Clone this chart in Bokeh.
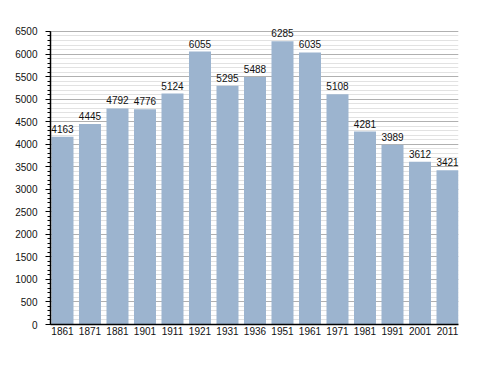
from bokeh.plotting import figure
from bokeh.models import ColumnDataSource, FixedTicker, Range1d, LabelSet
from bokeh.core.properties import value
from bokeh.embed import file_html
from bokeh.resources import INLINE

years = ["1861", "1871", "1881", "1901", "1911", "1921", "1931", "1936",
         "1951", "1961", "1971", "1981", "1991", "2001", "2011"]
population = [4163, 4445, 4792, 4776, 5124, 6055, 5295, 5488,
              6285, 6035, 5108, 4281, 3989, 3612, 3421]
y_ticks = list(range(0, 6501, 500))

idx = list(range(len(years)))
src = ColumnDataSource(dict(x=idx, y=population, lab=[str(v) for v in population]))

p = figure(width=480, height=365, output_backend="svg", toolbar_location=None,
           x_range=Range1d(-0.436, 14.4), y_range=Range1d(0, 6655),
           min_border_left=50, min_border_right=22, min_border_top=24, min_border_bottom=41)
p.outline_line_color = None
p.background_fill_color = "white"

p.vbar(x="x", top="y", width=0.8, bottom=0, source=src,
       fill_color="#9cb4cf", line_color=None)

labels = LabelSet(x="x", y="y", text="lab", source=src, text_align="center",
                  text_baseline="bottom", y_offset=4, text_font_size="10px",
                  text_font=value("Liberation Sans"), text_color="#111111")
p.add_layout(labels)

p.xaxis.ticker = FixedTicker(ticks=idx)
p.xaxis.major_label_overrides = {i: y for i, y in enumerate(years)}
p.xaxis.major_tick_line_color = None
p.xaxis.major_tick_in = 0
p.xaxis.major_tick_out = 0
p.xaxis.minor_tick_line_color = None
p.xaxis.minor_tick_in = 0
p.xaxis.minor_tick_out = 0
p.xaxis.major_label_standoff = 2
p.xaxis.axis_line_color = "black"
p.xaxis.axis_line_width = 1.5
p.xaxis.major_label_text_font = "Liberation Sans"
p.xaxis.major_label_text_font_size = "10px"
p.xaxis.major_label_text_color = "#111111"

p.yaxis.ticker = FixedTicker(ticks=y_ticks, minor_ticks=list(range(0, 6501, 100)))
p.yaxis.bounds = (0, 6500)
p.yaxis.major_tick_in = 0
p.yaxis.major_tick_out = 5
p.yaxis.minor_tick_in = 0
p.yaxis.minor_tick_out = 3
p.yaxis.axis_line_color = "black"
p.yaxis.axis_line_width = 1.5
p.yaxis.major_label_standoff = 8
p.yaxis.major_label_text_font = "Liberation Sans"
p.yaxis.major_label_text_font_size = "10px"
p.yaxis.major_label_text_color = "#111111"

p.xgrid.grid_line_color = None
p.ygrid.grid_line_color = "#b0b0b0"
p.ygrid.minor_grid_line_color = "#e2e2e2"
p.ygrid.level = "underlay"

open("out.html", "w").write(file_html(p, INLINE))
